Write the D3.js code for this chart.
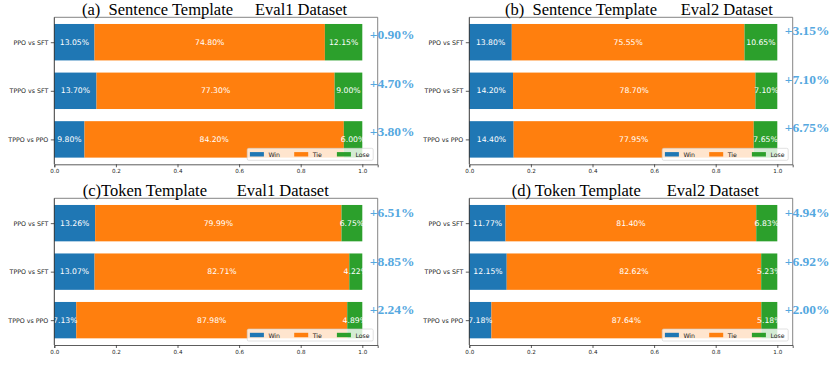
<!DOCTYPE html>
<html>
<head>
<meta charset="utf-8">
<script src="https://cdn.jsdelivr.net/npm/d3@7/dist/d3.min.js"></script>
<style>
  html, body { margin: 0; padding: 0; background: #fff; }
  svg { display: block; }
</style>
</head>
<body>
<svg id="chart" width="830" height="373"></svg>
<script>
// ---------------- DATA ----------------
const categories = ["PPO vs SFT", "TPPO vs SFT", "TPPO vs PPO"];
const seriesNames = ["Win", "Tie", "Lose"];
const titleLeft = ["(a)  Sentence Template", "(b)  Sentence Template", "(c)Token Template", "(d) Token Template"];
const titleRight = ["Eval1 Dataset", "Eval2 Dataset", "Eval1 Dataset", "Eval2 Dataset"];
const winValues = [
  [13.05, 13.70, 9.80],
  [13.80, 14.20, 14.40],
  [13.26, 13.07, 7.13],
  [11.77, 12.15, 7.18]
];
const tieValues = [
  [74.80, 77.30, 84.20],
  [75.55, 78.70, 77.95],
  [79.99, 82.71, 87.98],
  [81.40, 82.62, 87.64]
];
const loseValues = [
  [12.15, 9.00, 6.00],
  [10.65, 7.10, 7.65],
  [6.75, 4.22, 4.89],
  [6.83, 5.23, 5.18]
];
const deltaLabels = [
  ["+0.90%", "+4.70%", "+3.80%"],
  ["+3.15%", "+7.10%", "+6.75%"],
  ["+6.51%", "+8.85%", "+2.24%"],
  ["+4.94%", "+6.92%", "+2.00%"]
];
const xTicks = [0, 0.2, 0.4, 0.6, 0.8, 1.0];

// ---------------- LAYOUT / STYLE ----------------
const colors = ["#1f77b4", "#ff7f0e", "#2ca02c"];
const panelLeft = [54.3, 469.3, 54.3, 469.3];
const panelTop = [17.3, 17.3, 198.3, 198.3];
const panelH = [147, 147, 146.7, 146.7];
const panelW = 323.4;
const titleLeftX = [27.7, 35.7, 28.4, 42.4];
const titleRightX = [200.7, 211.4, 182.4, 197.4];
const deltaDy = [-3, -7, -6, -6];

const svg = d3.select("#chart");

for (let p = 0; p < 4; p++) {
  const L = panelLeft[p], T = panelTop[p], H = panelH[p];
  const g = svg.append("g").attr("transform", `translate(${L},${T})`);

  const x = d3.scaleLinear().domain([0, 1.05]).range([0, panelW]);
  const y = d3.scaleLinear().domain([-0.5125, 2.5125]).range([0, H]);
  const barH = y(0.375) - y(0);

  // stacked bars
  const segs = [];
  categories.forEach((c, i) => {
    const vals = [winValues[p][i], tieValues[p][i], loseValues[p][i]];
    let acc = 0;
    vals.forEach((v, k) => {
      segs.push({ i, k, x0: acc / 100, x1: (acc + v) / 100, v });
      acc += v;
    });
  });

  g.selectAll("rect.seg").data(segs).join("rect")
    .attr("class", "seg")
    .attr("x", d => x(d.x0))
    .attr("width", d => x(d.x1) - x(d.x0))
    .attr("y", d => y(d.i) - barH)
    .attr("height", 2 * barH)
    .attr("fill", d => colors[d.k]);

  // segment labels
  g.selectAll("text.seg").data(segs).join("text")
    .attr("class", "seg")
    .attr("x", d => x((d.x0 + d.x1) / 2))
    .attr("y", d => y(d.i))
    .attr("text-anchor", "middle")
    .attr("dominant-baseline", "central")
    .attr("fill", "#fff")
    .style("font-family", "DejaVu Sans")
    .style("font-size", "7.7px")
    .text(d => d.v.toFixed(2) + "%");

  // frame top/right
  g.append("line").attr("x1", 0).attr("x2", panelW).attr("y1", 0).attr("y2", 0)
    .attr("stroke", "#666").attr("stroke-width", 0.8);
  g.append("line").attr("x1", panelW).attr("x2", panelW).attr("y1", 0).attr("y2", H)
    .attr("stroke", "#666").attr("stroke-width", 0.8);

  // axes
  const xAxis = d3.axisBottom(x).tickValues(xTicks).tickFormat(d3.format(".1f"))
    .tickSize(3).tickPadding(2);
  const gx = g.append("g").attr("transform", `translate(0,${H})`).call(xAxis);
  gx.select(".domain").attr("stroke", "#333").attr("stroke-width", 0.8);
  gx.selectAll(".tick line").attr("stroke", "#333").attr("stroke-width", 0.8);
  gx.selectAll(".tick text").attr("fill", "#222")
    .style("font-family", "DejaVu Sans").style("font-size", "5.6px");

  const yAxis = d3.axisLeft(y).tickValues([0, 1, 2]).tickFormat(i => categories[i])
    .tickSize(3.5).tickPadding(2.5);
  const gy = g.append("g").call(yAxis);
  gy.select(".domain").attr("d", `M0,0V${H}`).attr("stroke", "#222").attr("stroke-width", 0.9);
  gy.selectAll(".tick line").attr("stroke", "#333").attr("stroke-width", 0.8);
  gy.selectAll(".tick text").attr("fill", "#222")
    .style("font-family", "DejaVu Sans").style("font-size", "6.3px");

  // delta annotations
  g.selectAll("text.delta").data(deltaLabels[p]).join("text")
    .attr("class", "delta")
    .attr("x", x(1.024))
    .attr("y", (d, i) => y(i) + deltaDy[p])
    .attr("fill", "#55A8E0")
    .style("font-family", "Liberation Serif")
    .style("font-weight", "bold")
    .style("font-size", "13.5px")
    .text(d => d);

  // legend
  const lw = 126, lh = 12;
  const lg = g.append("g").attr("transform", `translate(${panelW - 4.5 - lw},${H - 4 - lh})`);
  lg.append("rect").attr("width", lw).attr("height", lh).attr("rx", 1.5)
    .attr("fill", "#fff").attr("fill-opacity", 0.8)
    .attr("stroke", "#ccc").attr("stroke-width", 0.6);
  const colX = [2.7, 47, 89.7];
  seriesNames.forEach((s, k) => {
    lg.append("rect").attr("x", colX[k]).attr("y", lh / 2 - 2.2)
      .attr("width", 14).attr("height", 4.4).attr("fill", colors[k]);
    lg.append("text").attr("x", colX[k] + 18.5).attr("y", lh / 2)
      .attr("dominant-baseline", "central").attr("fill", "#222")
      .style("font-family", "DejaVu Sans").style("font-size", "6.2px")
      .text(s);
  });

  // titles
  svg.append("text").attr("x", L + titleLeftX[p]).attr("y", T - 2)
    .style("font-family", "Liberation Serif").style("font-size", "16.5px")
    .style("white-space", "pre").attr("fill", "#000")
    .text(titleLeft[p]);
  svg.append("text").attr("x", L + titleRightX[p]).attr("y", T - 2)
    .style("font-family", "Liberation Serif").style("font-size", "16.5px")
    .style("white-space", "pre").attr("fill", "#000")
    .text(titleRight[p]);
}
</script>
</body>
</html>
